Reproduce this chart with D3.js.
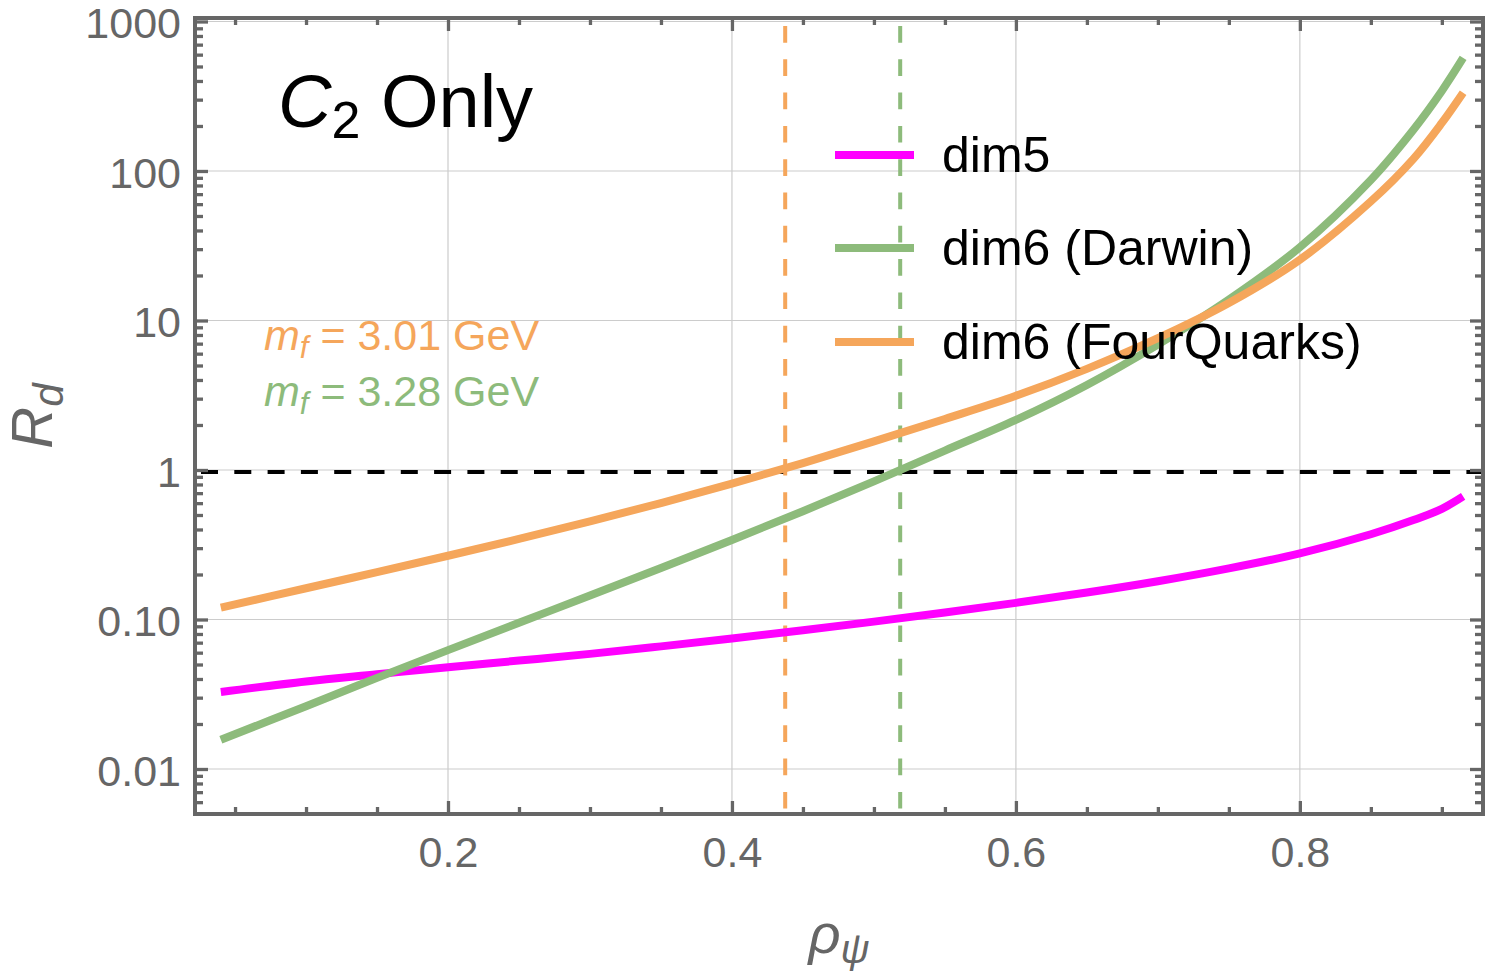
<!DOCTYPE html>
<html>
<head>
<meta charset="utf-8">
<script src="https://cdn.jsdelivr.net/npm/d3@7"></script>
<style>
  body { margin: 0; background: #fff; }
  svg { font-family: "Liberation Sans", Arial, Helvetica, sans-serif; }
</style>
</head>
<body>
<svg id="chart"></svg>
<script>
var width = 1500;
var height = 974;

// plot frame in pixels
var plotLeft = 195, plotRight = 1483, plotTop = 18, plotBottom = 814;

// data
var rho = [0.04, 0.1, 0.15, 0.2, 0.25, 0.3, 0.35, 0.4, 0.45, 0.5, 0.55, 0.6, 0.65, 0.7, 0.75, 0.8, 0.85, 0.88, 0.9, 0.915];
var dim5 = [0.0327, 0.0385, 0.043, 0.048, 0.0531, 0.0589, 0.0661, 0.0746, 0.0847, 0.0968, 0.1114, 0.1291, 0.1514, 0.1803, 0.2198, 0.2767, 0.3715, 0.4624, 0.5495, 0.665];
var dim6Darwin = [0.0157, 0.0263, 0.0407, 0.0624, 0.0951, 0.1445, 0.2213, 0.3404, 0.530, 0.839, 1.349, 2.163, 3.707, 6.90, 13.8, 30.9, 87.1, 188.8, 343, 570];
var dim6FourQuarks = [0.1202, 0.1618, 0.2073, 0.2669, 0.3459, 0.4532, 0.6012, 0.811, 1.113, 1.554, 2.195, 3.137, 4.749, 7.611, 13.08, 25.5, 62.59, 120.6, 209.7, 334.2];

var seriesNames = ["dim5", "dim6 (Darwin)", "dim6 (FourQuarks)"];
var seriesColors = ["#ff00ff", "#8dbb7b", "#f5a65b"];
var seriesValues = [dim5, dim6Darwin, dim6FourQuarks];

var xMajor = [0.2, 0.4, 0.6, 0.8];
var xMinor = [0.05, 0.1, 0.15, 0.25, 0.3, 0.35, 0.45, 0.5, 0.55, 0.65, 0.7, 0.75, 0.85, 0.9];
var yMajor = [0.01, 0.1, 1, 10, 100, 1000];
var yLabels = ["0.01", "0.10", "1", "10", "100", "1000"];
var yMinor = [];
[0.001, 0.01, 0.1, 1, 10, 100].forEach(function(d) {
  for (var k = 2; k <= 9; k++) {
    var v = d * k;
    if (v > 0.0055 && v < 1000) yMinor.push(v);
  }
});

// crossing points (R_d = 1)
var crossRho = [0.4375, 0.5185];
var crossColors = ["#f5a65b", "#8dbb7b"];

var xScale = d3.scaleLinear().domain([0.0218, 0.929]).range([plotLeft, plotRight]);
var yScale = d3.scaleLog().domain([0.005, 1055]).range([plotBottom, plotTop]);

var svg = d3.select("#chart").attr("width", width).attr("height", height);

// grid
svg.append("g").selectAll("line").data(xMajor).enter().append("line")
    .attr("x1", d => xScale(d)).attr("x2", d => xScale(d))
    .attr("y1", plotTop).attr("y2", plotBottom)
    .attr("stroke", "#cccccc").attr("stroke-width", 1.2);
svg.append("g").selectAll("line").data(yMajor).enter().append("line")
    .attr("x1", plotLeft).attr("x2", plotRight)
    .attr("y1", d => yScale(d)).attr("y2", d => yScale(d))
    .attr("stroke", "#cccccc").attr("stroke-width", 1.2);

// reference lines
svg.append("line")
    .attr("x1", plotLeft + 6).attr("x2", plotRight)
    .attr("y1", yScale(1) + 2).attr("y2", yScale(1) + 2)
    .attr("stroke", "#000").attr("stroke-width", 4.2)
    .attr("stroke-dasharray", "17,16.3");
svg.append("g").selectAll("line").data(crossRho).enter().append("line")
    .attr("x1", d => xScale(d)).attr("x2", d => xScale(d))
    .attr("y1", plotTop + 8).attr("y2", plotBottom)
    .attr("stroke", (d, i) => crossColors[i]).attr("stroke-width", 4)
    .attr("stroke-dasharray", "16.7,16.6");

// curves
var line = d3.line()
    .x((d, i) => xScale(rho[i]))
    .y(d => yScale(d))
    .curve(d3.curveCatmullRom.alpha(0.5));

svg.append("g").selectAll("path").data(seriesValues).enter().append("path")
    .attr("d", line)
    .attr("fill", "none")
    .attr("stroke", (d, i) => seriesColors[i])
    .attr("stroke-width", 8);

// axes with inward ticks
var tickColor = "#666666";
function styleAxis(g) {
  g.select(".domain").remove();
  g.selectAll(".tick line").attr("stroke", tickColor).attr("stroke-width", 3.3);
  g.selectAll(".tick text").attr("fill", tickColor).attr("font-size", 43);
}

svg.append("g").attr("transform", "translate(0," + plotBottom + ")")
    .call(d3.axisBottom(xScale).tickValues(xMajor).tickSize(-13).tickPadding(22).tickFormat(d3.format(".1f")))
    .call(styleAxis);
svg.append("g").attr("transform", "translate(0," + plotBottom + ")")
    .call(d3.axisBottom(xScale).tickValues(xMinor).tickSize(-7).tickFormat(""))
    .call(styleAxis);
svg.append("g").attr("transform", "translate(0," + plotTop + ")")
    .call(d3.axisTop(xScale).tickValues(xMajor).tickSize(-13).tickFormat(""))
    .call(styleAxis);
svg.append("g").attr("transform", "translate(0," + plotTop + ")")
    .call(d3.axisTop(xScale).tickValues(xMinor).tickSize(-7).tickFormat(""))
    .call(styleAxis);

svg.append("g").attr("transform", "translate(" + plotLeft + ",0)")
    .call(d3.axisLeft(yScale).tickValues(yMajor).tickSize(-13).tickPadding(14)
      .tickFormat((d, i) => yLabels[i]))
    .call(styleAxis)
    .selectAll(".tick text").attr("dy", "0.38em");
svg.append("g").attr("transform", "translate(" + plotLeft + ",0)")
    .call(d3.axisLeft(yScale).tickValues(yMinor).tickSize(-8).tickFormat(""))
    .call(styleAxis);
svg.append("g").attr("transform", "translate(" + plotRight + ",0)")
    .call(d3.axisRight(yScale).tickValues(yMajor).tickSize(-13).tickFormat(""))
    .call(styleAxis);
svg.append("g").attr("transform", "translate(" + plotRight + ",0)")
    .call(d3.axisRight(yScale).tickValues(yMinor).tickSize(-8).tickFormat(""))
    .call(styleAxis);

// frame
svg.append("rect")
    .attr("x", plotLeft).attr("y", plotTop)
    .attr("width", plotRight - plotLeft).attr("height", plotBottom - plotTop)
    .attr("fill", "none").attr("stroke", tickColor).attr("stroke-width", 4);

// axis titles
var yTitle = svg.append("text")
    .attr("transform", "translate(52," + ((plotTop + plotBottom) / 2) + ") rotate(-90)")
    .attr("text-anchor", "middle")
    .attr("fill", tickColor).attr("font-size", 58).attr("font-style", "italic");
yTitle.append("tspan").text("R");
yTitle.append("tspan").attr("font-size", 42).attr("dy", 11).text("d");

var xTitle = svg.append("text")
    .attr("x", (plotLeft + plotRight) / 2).attr("y", 953)
    .attr("text-anchor", "middle")
    .attr("fill", tickColor).attr("font-size", 56).attr("font-style", "italic");
xTitle.append("tspan").text("ρ");
xTitle.append("tspan").attr("font-size", 40).attr("dy", 10).text("ψ");

// panel title
var title = svg.append("text")
    .attr("x", 278).attr("y", 127)
    .attr("fill", "#000").attr("font-size", 74);
title.append("tspan").attr("font-style", "italic").text("C");
title.append("tspan").attr("font-size", 52).attr("dy", 11).text("2");
title.append("tspan").attr("dy", -11).text(" Only");

// mass annotations
var massLabels = ["3.01", "3.28"];
var massY = [350, 406];
massLabels.forEach(function(m, i) {
  var t = svg.append("text")
      .attr("x", 264).attr("y", massY[i])
      .attr("fill", crossColors[i]).attr("font-size", 43);
  t.append("tspan").attr("font-style", "italic").text("m");
  t.append("tspan").attr("font-style", "italic").attr("font-size", 31).attr("dy", 8).text("f");
  t.append("tspan").attr("dy", -8).text("  = " + m + " GeV");
});

// legend
var legendY = [155, 248, 342];
var legend = svg.append("g").selectAll("g").data(seriesNames).enter().append("g")
    .attr("transform", (d, i) => "translate(835," + legendY[i] + ")");
legend.append("line")
    .attr("x1", 0).attr("x2", 79).attr("y1", 0).attr("y2", 0)
    .attr("stroke", (d, i) => seriesColors[i]).attr("stroke-width", 8);
legend.append("text")
    .attr("x", 107).attr("y", 17)
    .attr("font-size", 50).attr("fill", "#000")
    .text(d => d);
</script>
</body>
</html>
